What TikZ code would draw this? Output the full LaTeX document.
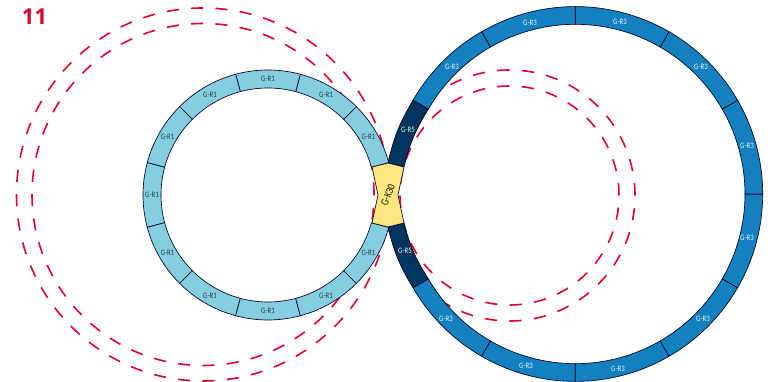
\documentclass[tikz,border=0pt]{standalone}
\usepackage{fontspec}
\setmainfont[FakeStretch=0.82]{Carlito}
\newfontfamily\numfont{Open Sans}
\usepackage{tikz}
\usetikzlibrary{positioning,calc}
\definecolor{lightring}{HTML}{85CDE0}
\definecolor{bluering}{HTML}{1380C0}
\definecolor{darkring}{HTML}{003560}
\definecolor{linkyellow}{HTML}{FFE680}
\definecolor{markred}{HTML}{E2002A}
\newcommand{\ringseg}[6]{%
  \draw[seg,fill=#2,shift={(#1)}] (#3:#5) arc[start angle=#3,end angle=#4,radius=#5]
    -- (#4:#6) arc[start angle=#4,end angle=#3,radius=#6] -- cycle;}

\begin{document}
\begin{tikzpicture}[
  x=1pt,y=1pt,
  every node/.style={font=\fontsize{8.3}{8.3}\selectfont,inner sep=0pt},
  seg/.style={draw=black!85!blue,line width=0.65pt},
  ghost/.style={draw=markred,line width=1.6pt,dash pattern=on #1 off #1},
  lab/.style={text=black!70!lightring},
  wlab/.style={text=white!85!lightring}
]
\useasboundingbox (0,0) rectangle (772,382);
\coordinate (lc) at (268,187);
\coordinate (rc) at (575.3,188);
\coordinate (gl) at (203,187.5);
\coordinate (gr) at (509.5,186.5);
% dashed circles stay behind the rings
\draw[ghost=12.2pt] (gl) circle[radius=186.5];
\draw[ghost=12.2pt] (gl) circle[radius=171];
\draw[ghost=12.32pt] (gr) circle[radius=125.5];
\draw[ghost=12.29pt] (gr) circle[radius=109.5];
% left ring
\foreach \a [evaluate=\a as \b using \a+30] in {15,45,...,315}
  \ringseg{lc}{lightring}{\a}{\b}{125}{107};
\foreach \a in {30,60,...,330}
  \node[lab] (r1\a) at ($(lc)+(\a:116)$) {G-R1};
% link corners
\coordinate (k1) at (372,215);
\coordinate (k2) at (388,219);
\coordinate (k3) at (404,215);
\coordinate (k4) at (398,187);
\coordinate (k5) at (404,159);
\coordinate (k6) at (388,155);
\coordinate (k7) at (372,159);
\coordinate (k8) at (378,187);
% right ring
\foreach \a [evaluate=\a as \b using \a+30] in {-150,-120,...,120}
  \ringseg{rc}{bluering}{\a}{\b}{187.4}{169.7};
\draw[seg,fill=darkring] ($(rc)+(150:187.4)$) to[bend right=9] (k2) -- (k3)
  to[bend left=9] ($(rc)+(150:169.7)$) -- cycle;
\draw[seg,fill=darkring] ($(rc)+(210:187.4)$) to[bend left=9] (k6) -- (k5)
  to[bend right=9] ($(rc)+(210:169.7)$) -- cycle;
\foreach \n/\x/\y in {a/530/359,b/620/360,c/701/315,d/747/236,e/747/144,f/703/63,
  g/618/13,h/526/16,i/446/63,j/452/315}
  \node[wlab] (r3\n) at (\x,\y) {G-R3};
\node[wlab] (r5a) at (408,252) {G-R5};
\node[wlab] (r5b) at (405,131) {G-R5};
% link between the rings
\draw[seg,fill=linkyellow] (k1) -- (k2) -- (k3) -- (k4) -- (k5) -- (k6) -- (k7) -- (k8) -- cycle;
\node[rotate=68,text=black!90,font=\fontsize{11}{11}\selectfont] (k30) at (388,187) {G-K30};
\node[text=markred,font=\numfont\bfseries\fontsize{22}{22}\selectfont] (num) at (34.5,365) {11};
\end{tikzpicture}
\end{document}
